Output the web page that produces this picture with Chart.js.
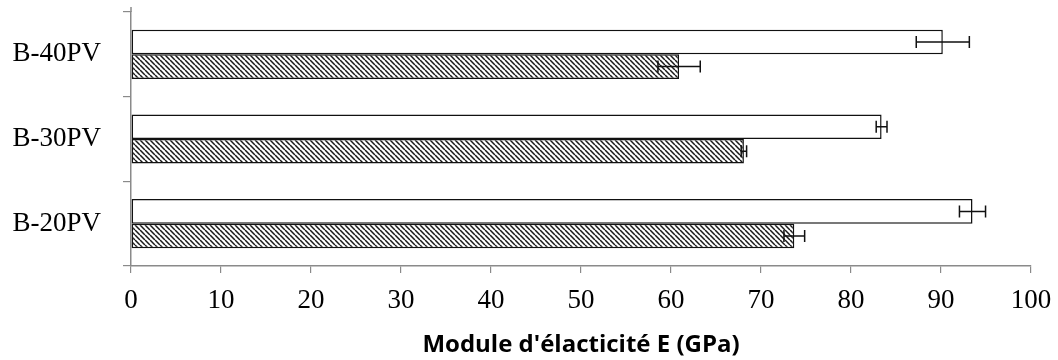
<!DOCTYPE html>
<html>
<head>
<meta charset="utf-8">
<script src="https://cdn.jsdelivr.net/npm/chart.js@4/dist/chart.umd.min.js"></script>
<style>
  html, body { margin: 0; padding: 0; background: #fff; }
  #wrap { width: 1058px; height: 360px; }
</style>
</head>
<body>
<div id="wrap"><canvas id="modulusChart"></canvas></div>
<script>
const CANVAS_ID = 'modulusChart';

const categories = ['B-40PV', 'B-30PV', 'B-20PV'];
const plainValues = [90.2, 83.4, 93.5];
const plainErrors = [2.95, 0.6, 1.45];
const hatchedValues = [60.9, 68.1, 73.7];
const hatchedErrors = [2.35, 0.3, 1.15];
const xTicks = [0, 10, 20, 30, 40, 50, 60, 70, 80, 90, 100];

const AXIS_GREY = '#8a8a8a';

// diagonal "\\\" hatch fill
function hatchPattern(){
  const s = 5;
  const c = document.createElement('canvas');
  c.width = s; c.height = s;
  const g = c.getContext('2d');
  g.fillStyle = '#fff';
  g.fillRect(0, 0, s, s);
  g.strokeStyle = '#1a1a1a';
  g.lineWidth = 1.5;
  g.beginPath();
  [-s, 0, s].forEach(k => { g.moveTo(k, 0); g.lineTo(k + s, s); });
  g.stroke();
  return g.createPattern(c, 'repeat');
}

// horizontal error bars drawn from each bar's own position
const errorBars = {
  id: 'errorBars',
  afterDatasetsDraw(chart){
    const ctx = chart.ctx, x = chart.scales.x, y = chart.scales.y;
    ctx.save();
    // value axis runs a little past the top category tick
    ctx.strokeStyle = AXIS_GREY;
    ctx.lineWidth = 1.5;
    ctx.beginPath();
    ctx.moveTo(y.right, y.top - 5);
    ctx.lineTo(y.right, y.top);
    ctx.stroke();

    ctx.strokeStyle = '#111';
    chart.data.datasets.forEach((ds, i) => {
      chart.getDatasetMeta(i).data.forEach((bar, j) => {
        const v = ds.data[j], e = ds.errors[j];
        const x0 = x.getPixelForValue(v - e), x1 = x.getPixelForValue(v + e);
        const yc = bar.y, h = 6;
        ctx.beginPath();
        ctx.moveTo(x0, yc); ctx.lineTo(x1, yc);
        ctx.moveTo(x0, yc - h); ctx.lineTo(x0, yc + h);
        ctx.moveTo(x1, yc - h); ctx.lineTo(x1, yc + h);
        ctx.stroke();
      });
    });
    ctx.restore();
  }
};

// let layout.padding alone decide the plot edges
function noEdgePadding(scale){
  scale.paddingTop = 0; scale.paddingBottom = 0;
  scale.paddingLeft = 0; scale.paddingRight = 0;
}

new Chart(document.getElementById(CANVAS_ID), {
  type: 'bar',
  data: {
    labels: categories,
    datasets: [
      {
        label: 'Série 1',
        data: plainValues,
        errors: plainErrors,
        backgroundColor: '#fff',
        borderColor: '#111',
        borderWidth: 1.5,
        borderSkipped: false
      },
      {
        label: 'Série 2',
        data: hatchedValues,
        errors: hatchedErrors,
        backgroundColor: hatchPattern(),
        borderColor: '#111',
        borderWidth: 1.5,
        borderSkipped: false
      }
    ]
  },
  options: {
    indexAxis: 'y',
    responsive: true,
    maintainAspectRatio: false,
    animation: false,
    devicePixelRatio: 1,
    categoryPercentage: 0.58,
    barPercentage: 1.0,
    layout: { padding: { top: 12, right: 27, left: 0, bottom: 0 } },
    plugins: { legend: { display: false }, tooltip: { enabled: false } },
    scales: {
      x: {
        min: 0,
        max: 100,
        afterBuildTicks: scale => { scale.ticks = xTicks.map(v => ({ value: v })); },
        afterFit: scale => { scale.height = 94; noEdgePadding(scale); },
        grid: { drawOnChartArea: false, tickLength: 7, color: AXIS_GREY, lineWidth: 1.2 },
        border: { color: AXIS_GREY, width: 1.5 },
        ticks: {
          color: '#000',
          padding: 12,
          maxRotation: 0,
          font: { family: '"Liberation Serif", "Times New Roman", serif', size: 27 }
        },
        title: {
          display: true,
          text: "Module d'élacticité E (GPa)",
          color: '#000',
          padding: { top: -3, bottom: 0 },
          font: { family: '"Open Sans", sans-serif', size: 24, weight: 'bold' }
        }
      },
      y: {
        afterFit: scale => { scale.width = 131; noEdgePadding(scale); },
        grid: { offset: true, drawOnChartArea: false, tickLength: 8, color: AXIS_GREY, lineWidth: 1.2 },
        border: { color: AXIS_GREY, width: 1.5 },
        ticks: {
          color: '#000',
          padding: 22,
          font: { family: '"Liberation Serif", "Times New Roman", serif', size: 27 }
        }
      }
    }
  },
  plugins: [errorBars]
});
</script>
</body>
</html>
